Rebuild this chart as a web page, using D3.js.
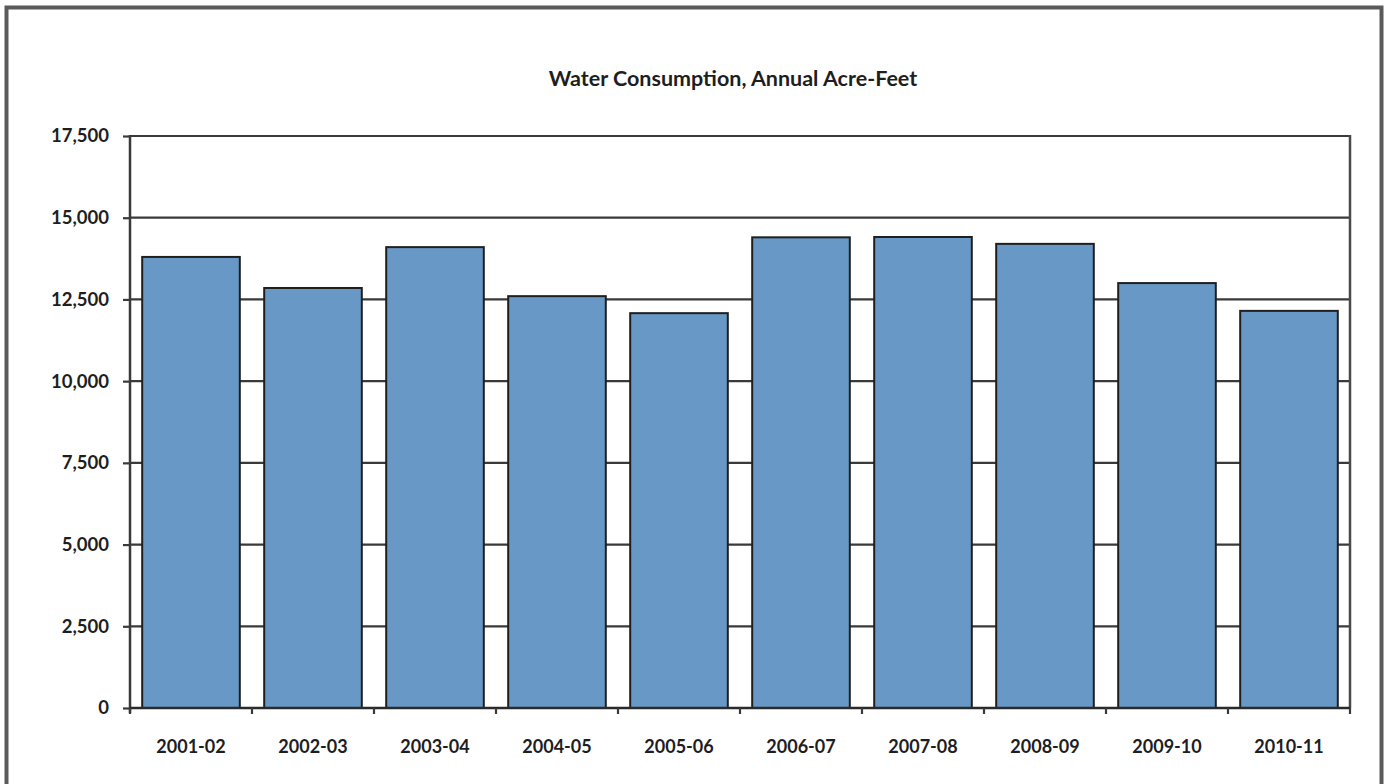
<!DOCTYPE html>
<html>
<head>
<meta charset="utf-8">
<script src="https://cdn.jsdelivr.net/npm/d3@7"></script>
<style>
  html, body { margin: 0; padding: 0; background: #fff; }
  svg { display: block; }
  text { font-family: Lato, "Open Sans", sans-serif; font-weight: 700; fill: #1e1e1e; }
</style>
</head>
<body>
<svg id="chart" width="1389" height="784"></svg>
<script>
// Fiscal years and annual consumption (acre-feet)
const years = ["2001-02", "2002-03", "2003-04", "2004-05", "2005-06",
               "2006-07", "2007-08", "2008-09", "2009-10", "2010-11"];
const consumption = [13800, 12850, 14100, 12600, 12080,
                     14400, 14410, 14200, 13000, 12150];
const yTicks = [0, 2500, 5000, 7500, 10000, 12500, 15000, 17500];
const title = "Water Consumption, Annual Acre-Feet";

const svg = d3.select("#chart");
const plot = { left: 130, right: 1350, top: 136, bottom: 708 };

// outer frame of the chart
svg.append("rect")
  .attr("x", 6.5).attr("y", 7.5)
  .attr("width", 1375).attr("height", 800)
  .attr("fill", "#fff")
  .attr("stroke", "#5a5a5a")
  .attr("stroke-width", 4);

const x = d3.scaleBand()
  .domain(years)
  .range([plot.left, plot.right])
  .paddingInner(0.2)
  .paddingOuter(0.1);

const y = d3.scaleLinear()
  .domain([0, 17500])
  .range([plot.bottom, plot.top]);

// title
svg.append("text")
  .attr("x", 733).attr("y", 78)
  .attr("text-anchor", "middle")
  .attr("dominant-baseline", "central")
  .style("font-size", "21.5px")
  .text(title);

// horizontal gridlines
svg.append("g")
  .selectAll("line")
  .data(yTicks.filter(d => d > 0))
  .join("line")
  .attr("x1", plot.left).attr("x2", plot.right)
  .attr("y1", d => y(d)).attr("y2", d => y(d))
  .attr("stroke", "#3a3a3a")
  .attr("stroke-width", 2.2);

// right edge of plot area
svg.append("line")
  .attr("x1", plot.right).attr("x2", plot.right)
  .attr("y1", plot.top - 1).attr("y2", plot.bottom)
  .attr("stroke", "#4a4a4a")
  .attr("stroke-width", 2.5);

// bars
svg.append("g")
  .selectAll("rect")
  .data(years.map((k, i) => ({ k, v: consumption[i] })))
  .join("rect")
  .attr("x", d => x(d.k))
  .attr("y", d => y(d.v))
  .attr("width", x.bandwidth())
  .attr("height", d => y(0) - y(d.v))
  .attr("fill", "#6898c5")
  .attr("stroke", "#1f1f1f")
  .attr("stroke-width", 2);

// y axis
const yAxis = d3.axisLeft(y)
  .tickValues(yTicks)
  .tickFormat(d3.format(","))
  .tickSize(7)
  .tickPadding(14);
const gy = svg.append("g")
  .attr("transform", `translate(${plot.left},0)`)
  .call(yAxis);
gy.select(".domain").attr("stroke", "#3a3a3a").attr("stroke-width", 2.5)
  .attr("d", `M0,${plot.top - 1}V${plot.bottom + 5}`);
gy.selectAll(".tick line").attr("stroke", "#3a3a3a").attr("stroke-width", 2.2);
gy.selectAll(".tick text")
  .style("font-size", "18.5px")
  .style("font-family", "Lato, sans-serif")
  .attr("fill", "#1e1e1e");

// x axis baseline with boundary ticks between categories
const step = x.step();
const boundaries = d3.range(years.length + 1).map(i => x(years[0]) - x.paddingOuter() * step + i * step);
svg.append("line")
  .attr("x1", plot.left).attr("x2", plot.right)
  .attr("y1", plot.bottom).attr("y2", plot.bottom)
  .attr("stroke", "#2a2a2a").attr("stroke-width", 2.5);
svg.append("g")
  .selectAll("line")
  .data(boundaries)
  .join("line")
  .attr("x1", d => d).attr("x2", d => d)
  .attr("y1", plot.bottom).attr("y2", plot.bottom + 6)
  .attr("stroke", "#3a3a3a").attr("stroke-width", 2.2);

// category labels
svg.append("g")
  .selectAll("text")
  .data(years)
  .join("text")
  .attr("x", d => x(d) + x.bandwidth() / 2)
  .attr("y", 746)
  .attr("text-anchor", "middle")
  .attr("dominant-baseline", "central")
  .style("font-size", "18px")
  .text(d => d);
</script>
</body>
</html>
